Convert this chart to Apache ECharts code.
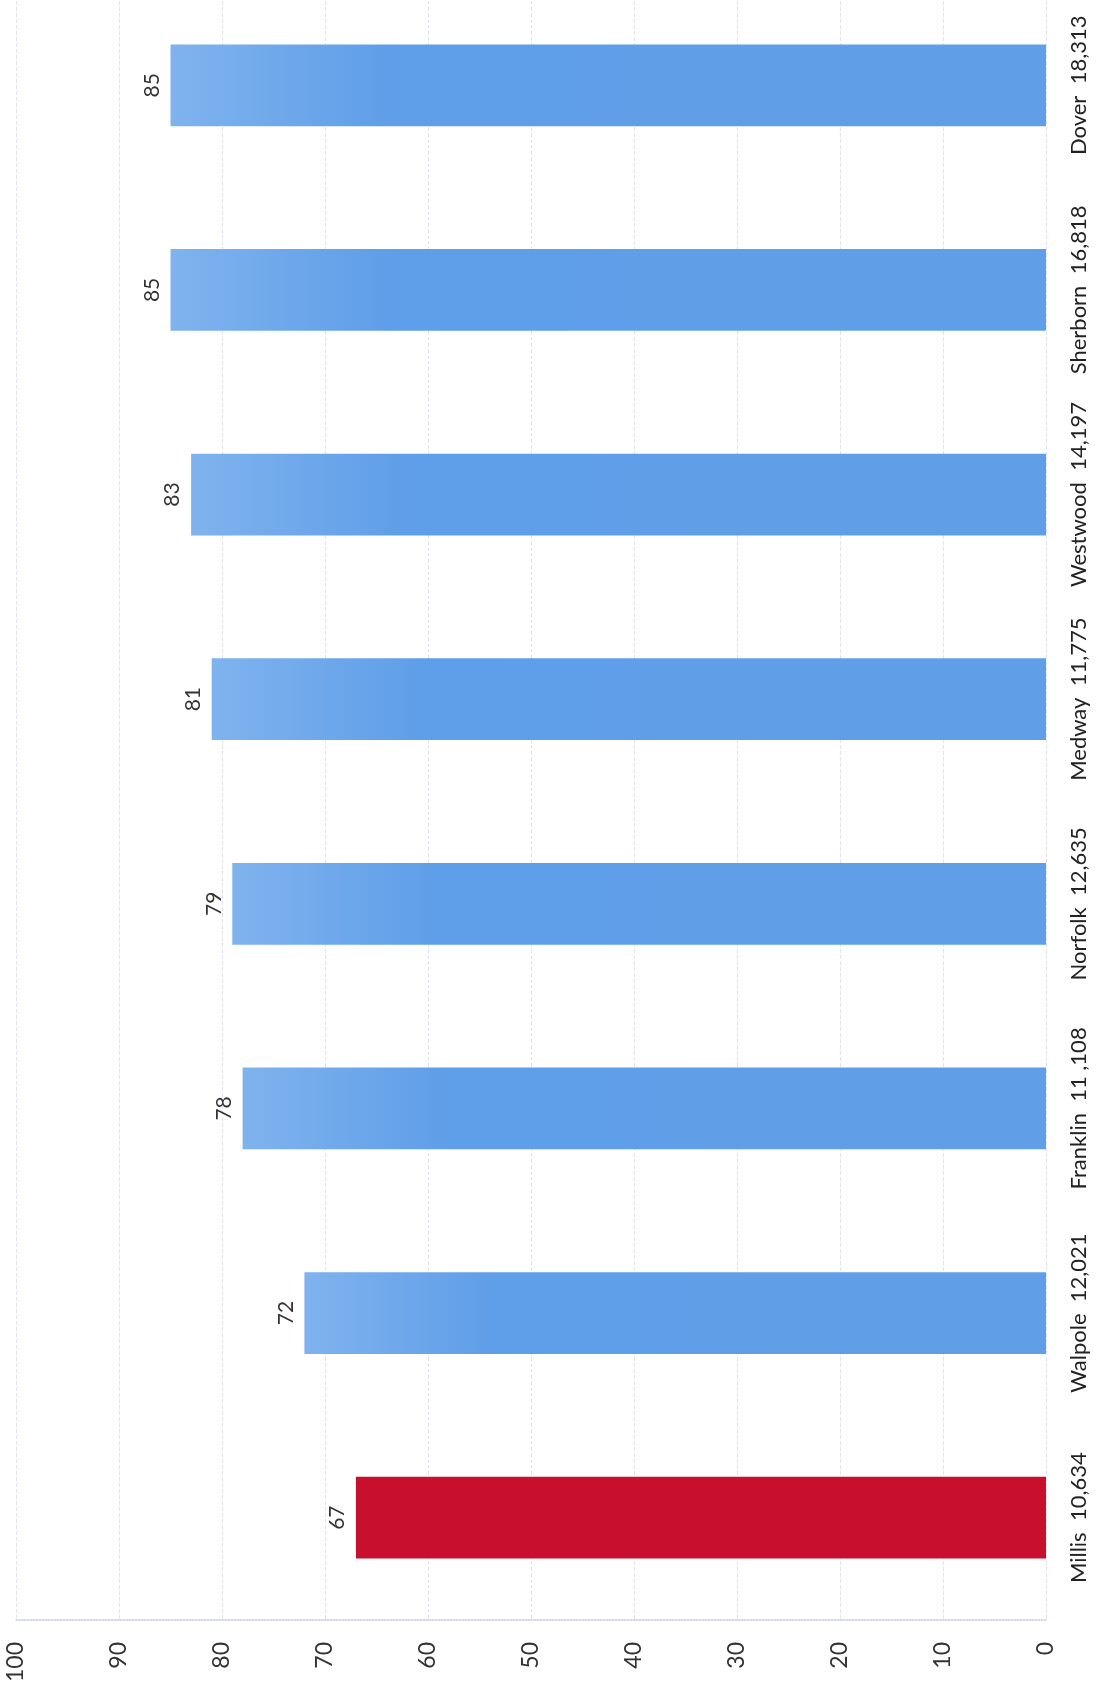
<!DOCTYPE html>
<html><head><meta charset="utf-8">
<script src="https://cdn.jsdelivr.net/npm/echarts@6/dist/echarts.min.js"></script>
<style>html,body{margin:0;padding:0;background:#fff;overflow:hidden}#c{position:absolute;left:0;top:-17px;width:1110px;height:1709px}</style>
</head><body><div id="c"></div>
<script>
const towns = ["Millis", "Walpole", "Franklin", "Norfolk", "Medway", "Westwood", "Sherborn", "Dover"];
const populations = ["10,634", "12,021", "11 ,108", "12,635", "11,775", "14,197", "16,818", "18,313"];
const scores = [67, 72, 78, 79, 81, 83, 85, 85];
const highlightTown = "Millis";
const valueTicks = [0, 10, 20, 30, 40, 50, 60, 70, 80, 90, 100];

const labels = towns.map((t, i) => t + "  " + populations[i]);
const FONT = "Lato";
const chart = echarts.init(document.getElementById('c'));
chart.setOption({
  backgroundColor: '#ffffff',
  animation: false,
  grid: { left: 16, right: 64, top: 0, bottom: 72, containLabel: false },
  xAxis: {
    type: 'value', inverse: true, min: 0, max: 100, interval: 10, position: 'bottom',
    axisLine: { show: true, lineStyle: { color: '#c8cce0', type: 'dotted', width: 1.5 } },
    axisTick: { show: false },
    splitLine: { show: true, lineStyle: { color: '#e2e2ec', type: 'dashed', width: 1 } },
    axisLabel: { rotate: 90, margin: 22, fontFamily: FONT, fontSize: 23, color: '#333' }
  },
  yAxis: {
    type: 'category', data: labels, position: 'right',
    axisLine: { show: false }, axisTick: { show: false },
    axisLabel: { interval: 0, rotate: 90, margin: 22, fontFamily: FONT, fontSize: 22, color: '#222' }
  },
  series: [{
    type: 'bar', barCategoryGap: '60%',
    data: scores.map((v, i) => ({
      value: v,
      itemStyle: { color: towns[i] === highlightTown ? '#c8102e' :
        new echarts.graphic.LinearGradient(1, 0, 0, 0, [
          { offset: 0, color: '#609fe8' }, { offset: 0.75, color: '#5f9ee8' }, { offset: 1, color: '#7fb3ee' }]) }
    })),
    label: { show: true, position: 'left', distance: 8, rotate: 90, align: 'center', verticalAlign: 'bottom',
      fontFamily: FONT, fontSize: 21, color: '#333' }
  }]
});
</script></body></html>
